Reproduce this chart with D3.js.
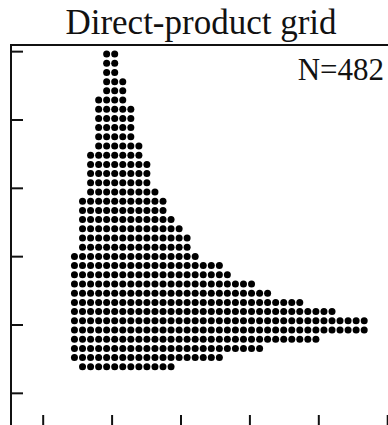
<!DOCTYPE html>
<html>
<head>
<meta charset="utf-8">
<script src="https://cdn.jsdelivr.net/npm/d3@7"></script>
<style>
  html, body { margin: 0; padding: 0; background: #fff; }
  svg { display: block; }
</style>
</head>
<body>
<svg id="chart" width="388" height="425"></svg>
<script>
// Grid node coordinates along each direction
const xNodes = [1.461, 1.578, 1.695, 1.812, 1.928, 2.045, 2.162, 2.279, 2.396, 2.512,
                2.629, 2.746, 2.863, 2.980, 3.096, 3.213, 3.330, 3.447, 3.564, 3.680,
                3.797, 3.914, 4.031, 4.148, 4.264, 4.381, 4.498, 4.615, 4.731, 4.848,
                4.965, 5.082, 5.199, 5.315, 5.432, 5.549, 5.666];
const yNodes = [1.381, 1.516, 1.650, 1.785, 1.919, 2.054, 2.189, 2.323, 2.458, 2.592,
                2.727, 2.862, 2.996, 3.131, 3.265, 3.400, 3.535, 3.669, 3.804, 3.938,
                4.073, 4.208, 4.342, 4.477, 4.611, 4.746, 4.881, 5.015, 5.150, 5.284,
                5.419, 5.554, 5.688, 5.823, 5.957];

// Retained x-node index range for each y-node (bottom row first)
const rowFirst = [1, 0, 0, 0, 0, 0, 0, 0, 0, 0,
                  0, 0, 0, 1, 1, 1, 1, 1, 1, 2,
                  2, 2, 2, 2, 3, 3, 3, 3, 3, 3,
                  4, 4, 4, 4, 4];
const rowLast  = [12, 18, 23, 30, 36, 36, 32, 28, 24, 22,
                  19, 18, 15, 14, 14, 13, 12, 11, 11, 10,
                  9, 9, 9, 8, 8, 7, 7, 7, 7, 6,
                  6, 6, 5, 5, 5];

const xTicks = [1, 2, 3, 4, 5, 6];
const yTicks = [1, 2, 3, 4, 5, 6];
const titleText = "Direct-product grid";

const points = [];
yNodes.forEach((yv, j) => {
  for (let i = rowFirst[j]; i <= rowLast[j]; i++) points.push({ x: xNodes[i], y: yv });
});

const svg = d3.select("#chart");
const frame = { left: 11, top: 45, right: 391, bottom: 427 };

const x = d3.scaleLinear().domain([0.54, 6.055]).range([frame.left, frame.right]);
const y = d3.scaleLinear().domain([0.5, 6.09]).range([frame.bottom, frame.top]);

// Frame
svg.append("rect")
  .attr("x", frame.left).attr("y", frame.top)
  .attr("width", frame.right - frame.left).attr("height", frame.bottom - frame.top)
  .attr("fill", "none").attr("stroke", "#111").attr("stroke-width", 2);

// Inward ticks
const xAxis = d3.axisBottom(x).tickValues(xTicks).tickSizeInner(-12).tickSizeOuter(0).tickFormat("");
const yAxis = d3.axisLeft(y).tickValues(yTicks).tickSizeInner(-12).tickSizeOuter(0).tickFormat("");

svg.append("g").attr("transform", `translate(0,${frame.bottom})`).call(xAxis)
  .call(g => g.select(".domain").remove())
  .call(g => g.selectAll("line").attr("stroke", "#111").attr("stroke-width", 2));
svg.append("g").attr("transform", `translate(${frame.left},0)`).call(yAxis)
  .call(g => g.select(".domain").remove())
  .call(g => g.selectAll("line").attr("stroke", "#111").attr("stroke-width", 2));

// Grid points
svg.append("g").selectAll("circle").data(points).join("circle")
  .attr("cx", d => x(d.x)).attr("cy", d => y(d.y))
  .attr("r", 3.5).attr("fill", "#000");

// Title and count
svg.append("text").attr("x", 201).attr("y", 34)
  .attr("text-anchor", "middle")
  .style("font-family", "'Liberation Serif', 'DejaVu Serif', serif")
  .style("font-size", "35px").attr("fill", "#111")
  .text(titleText);

svg.append("text").attr("x", 384).attr("y", 80)
  .attr("text-anchor", "end")
  .style("font-family", "'Liberation Serif', 'DejaVu Serif', serif")
  .style("font-size", "31px").attr("fill", "#111")
  .text("N=" + points.length);
</script>
</body>
</html>
